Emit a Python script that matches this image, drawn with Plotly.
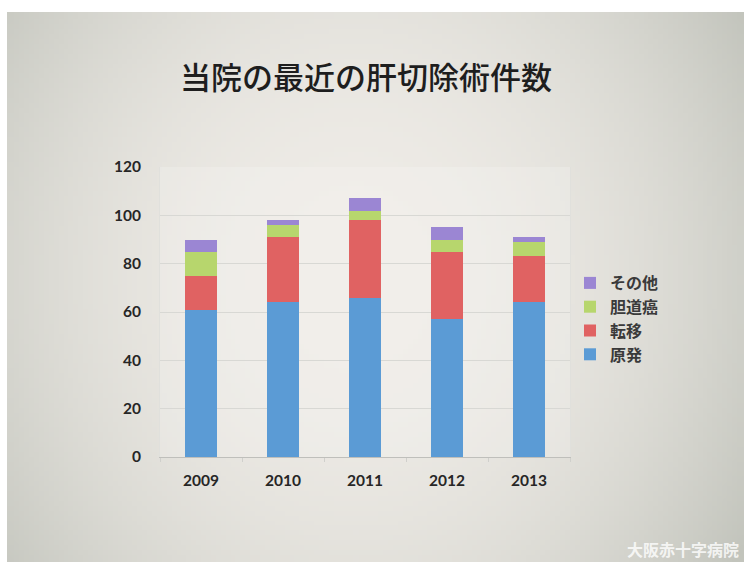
import base64
import struct
import zlib

import numpy as np
import plotly.graph_objects as go

# Liver resection counts per year, stacked by indication
years = ["2009", "2010", "2011", "2012", "2013"]
primary = [61, 64, 66, 57, 64]      # 原発
metastasis = [14, 27, 32, 28, 19]   # 転移
biliary = [10, 5, 4, 5, 6]          # 胆道癌
other = [5, 2, 5, 5, 2]             # その他

series = [
    ("原発", primary, "#5b9bd5"),
    ("転移", metastasis, "#e06262"),
    ("胆道癌", biliary, "#b7d66d"),
    ("その他", other, "#9b86d3"),
]

W, H = 744, 562
L, R, T, B = 160, 174, 167, 105
PW, PH = W - L - R, H - T - B

# slide backdrop: soft vignette, light in the middle, greyer at the edges
SX0, SY0 = 7, 12
bw, bh = 150, 112
yy, xx = np.mgrid[0:bh, 0:bw].astype(float)
d = np.sqrt(((xx - 0.47 * bw) / (0.62 * bw)) ** 2 + ((yy - 0.48 * bh) / (0.95 * bh)) ** 2)
t = np.clip(d, 0, 1) ** 2.2
center = np.array([239, 236, 231], float)
edge = np.array([194, 196, 188], float)
img = center[None, None, :] * (1 - t[..., None]) + edge[None, None, :] * t[..., None]
img = np.clip(img, 0, 255).astype(np.uint8)


def png_bytes(arr):
    h, w, _ = arr.shape
    raw = b"".join(b"\x00" + arr[r].tobytes() for r in range(h))

    def chunk(tag, data):
        c = struct.pack(">I", len(data)) + tag + data
        return c + struct.pack(">I", zlib.crc32(tag + data) & 0xFFFFFFFF)

    return (b"\x89PNG\r\n\x1a\n"
            + chunk(b"IHDR", struct.pack(">IIBBBBB", w, h, 8, 2, 0, 0, 0))
            + chunk(b"IDAT", zlib.compress(raw, 9))
            + chunk(b"IEND", b""))


bg_src = "data:image/png;base64," + base64.b64encode(png_bytes(img)).decode()

fig = go.Figure()
for name, vals, color in series:
    fig.add_trace(go.Bar(
        x=years, y=vals, name=name,
        marker=dict(color=color, line=dict(width=0)),
    ))

fig.update_layout(
    width=W, height=H,
    margin=dict(l=L, r=R, t=T, b=B, pad=0),
    barmode="stack",
    bargap=0.6,
    paper_bgcolor="white",
    plot_bgcolor="rgba(0,0,0,0)",
    font=dict(family="Lato, 'Noto Sans CJK JP', sans-serif", color="#262626"),
    showlegend=True,
    legend=dict(
        traceorder="reversed",
        x=(570 - L) / PW, xanchor="left",
        y=(H - B - 266) / PH, yanchor="top",
        bgcolor="rgba(0,0,0,0)",
        font=dict(family="'Noto Sans CJK JP', sans-serif", size=16, color="#3a3a3a", weight="bold"),
        itemwidth=30,
        tracegroupgap=0,
    ),
    images=[dict(
        source=bg_src, layer="below", sizing="stretch",
        xref="paper", yref="paper",
        x=(SX0 - L) / PW, y=(H - SY0 - B) / PH,
        sizex=(W - SX0) / PW, sizey=(H - SY0) / PH,
        xanchor="left", yanchor="top",
    )],
    shapes=[dict(
        type="rect", xref="paper", yref="paper", x0=0, x1=1, y0=0, y1=1,
        fillcolor="rgba(255,255,255,0.18)", line=dict(width=0), layer="below",
    )],
    annotations=[
        dict(
            text="当院の最近の肝切除術件数",
            xref="paper", yref="paper",
            x=(366 - L) / PW, y=(H - B - 75) / PH,
            xanchor="center", yanchor="middle", showarrow=False,
            font=dict(family="'Noto Sans CJK JP', sans-serif", size=31, color="#1e1e1e", weight=500),
        ),
        dict(
            text="大阪赤十字病院",
            xref="paper", yref="paper",
            x=(741 - L) / PW, y=(H - B - 549) / PH,
            xanchor="right", yanchor="middle", showarrow=False,
            font=dict(family="'Noto Sans CJK JP', sans-serif", size=16, color="rgba(255,255,255,0.8)", weight="bold"),
        ),
    ],
)

fig.update_yaxes(
    range=[0, 120], dtick=20,
    showgrid=True, gridcolor="#d8d8d4", gridwidth=1,
    zeroline=False,
    showline=True, linecolor="#e0e0dc", linewidth=1, mirror=True,
    ticks="", ticklabelstandoff=15,
    tickfont=dict(family="Lato, sans-serif", size=15.5, color="#262626", weight="bold"),
)
fig.update_xaxes(
    showgrid=False,
    showline=True, linecolor="#bfbfbb", linewidth=1, mirror=False,
    ticks="outside", tickson="boundaries", ticklen=4, tickcolor="#d0d0cc",
    ticklabelstandoff=9,
    tickfont=dict(family="Lato, sans-serif", size=15.5, color="#262626", weight="bold"),
)

fig.write_html("out.html")
